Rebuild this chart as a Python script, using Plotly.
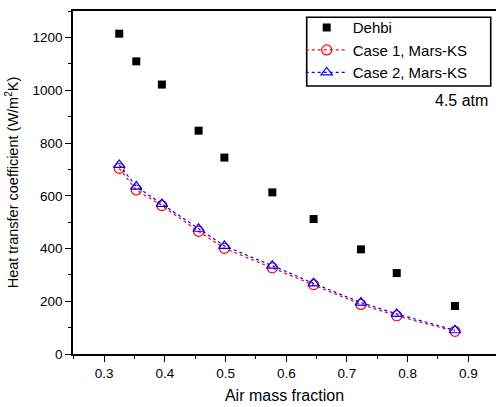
import plotly.graph_objects as go

x_vals = [0.3247, 0.3528, 0.395, 0.4555, 0.498, 0.577, 0.645, 0.723, 0.782, 0.878]
dehbi = [1215, 1110, 1022, 847, 745, 613, 512, 397, 307, 182]
case1 = [704, 622, 563, 465, 401, 327, 263, 188, 145, 86]
case2 = [717, 635, 569, 475, 410, 335, 268, 195, 152, 90]

FONT = "Liberation Sans"

fig = go.Figure()
fig.add_trace(go.Scatter(x=x_vals, y=dehbi, mode="markers", name="Dehbi",
                         marker=dict(symbol="square", size=8, color="black")))
fig.add_trace(go.Scatter(x=x_vals, y=case1, mode="lines+markers", name="Case 1, Mars-KS",
                         line=dict(color="red", dash="dot", width=1.2),
                         marker=dict(symbol="circle-open", size=10, color="red", line=dict(width=1.2))))
fig.add_trace(go.Scatter(x=x_vals, y=case2, mode="lines+markers", name="Case 2, Mars-KS",
                         line=dict(color="blue", dash="dot", width=1.2),
                         marker=dict(symbol="triangle-up-open", size=10, color="blue", line=dict(width=1.2))))

fig.update_layout(
    width=496, height=407,
    margin=dict(l=73, r=0, t=11, b=53),
    paper_bgcolor="white", plot_bgcolor="white",
    font=dict(family=FONT, size=13, color="black"),
    showlegend=True,
    legend=dict(x=0.5383, y=0.9995, xanchor="left", yanchor="top",
                borderwidth=0, bgcolor="rgba(0,0,0,0)",
                font=dict(size=15, family=FONT), tracegroupgap=0,
                itemwidth=42),
    shapes=[dict(type="rect", xref="paper", yref="paper",
                 x0=0.5525, x1=0.9875, y0=0.7813, y1=0.9816,
                 line=dict(color="black", width=1.6), fillcolor="rgba(0,0,0,0)", layer="above")],
    annotations=[dict(text="4.5 atm", x=0.986, y=0.7405, xref="paper", yref="paper",
                      xanchor="right", yanchor="middle", showarrow=False,
                      font=dict(size=16, family=FONT))],
)
fig.update_xaxes(range=[0.2485, 0.9456], tickvals=[0.3, 0.4, 0.5, 0.6, 0.7, 0.8, 0.9],
                 ticktext=["0.3", "0.4", "0.5", "0.6", "0.7", "0.8", "0.9"],
                 ticks="outside", ticklen=6, tickwidth=1.2, tickcolor="black",
                 minor=dict(ticks="outside", ticklen=3, dtick=0.05, tick0=0.25, tickcolor="black", showgrid=False),
                 showline=True, linecolor="black", linewidth=1.5, mirror=True,
                 showgrid=False, zeroline=False,
                 title=dict(text="Air mass fraction", font=dict(size=16, family=FONT), standoff=10),
                 tickfont=dict(size=13.5, family=FONT))
fig.update_yaxes(range=[0, 1301], tickvals=[0, 200, 400, 600, 800, 1000, 1200],
                 ticks="outside", ticklen=6, tickwidth=1.2, tickcolor="black",
                 minor=dict(ticks="outside", ticklen=3, dtick=100, tickcolor="black", showgrid=False),
                 showline=True, linecolor="black", linewidth=1.5,
                 showgrid=False, zeroline=False,
                 title=dict(text="Heat transfer coefficient (W/m<sup>2</sup>K)", font=dict(size=14.5, family=FONT), standoff=10),
                 tickfont=dict(size=13.5, family=FONT))

fig.write_html("out.html")
